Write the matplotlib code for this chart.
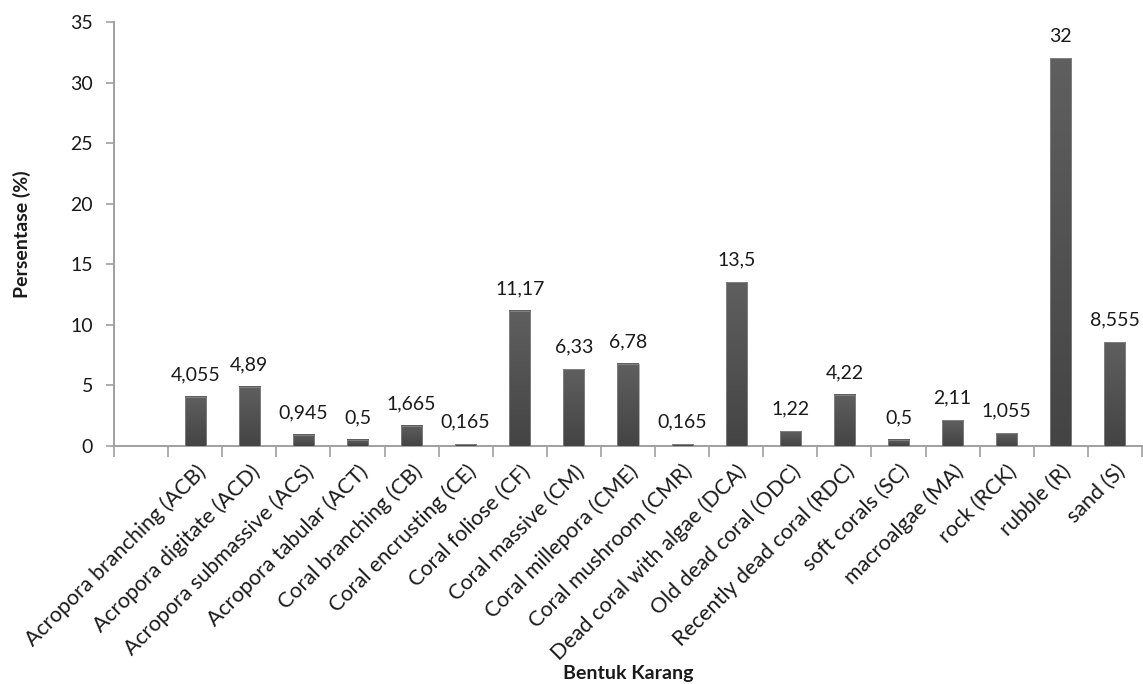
import matplotlib
matplotlib.use("Agg")
import matplotlib.pyplot as plt
import numpy as np
from matplotlib.colors import LinearSegmentedColormap

# Data: first slot of the Excel chart is an empty category
categories = ["",
              "Acropora branching (ACB)", "Acropora digitate (ACD)",
              "Acropora submassive (ACS)", "Acropora tabular (ACT)",
              "Coral branching (CB)", "Coral encrusting (CE)",
              "Coral foliose (CF)", "Coral massive (CM)",
              "Coral millepora (CME)", "Coral mushroom (CMR)",
              "Dead coral with algae (DCA)", "Old dead coral (ODC)",
              "Recently dead coral (RDC)", "soft corals (SC)",
              "macroalgae (MA)", "rock (RCK)", "rubble (R)", "sand (S)"]
values = [None,
          4.055, 4.89, 0.945, 0.5, 1.665, 0.165, 11.17, 6.33,
          6.78, 0.165, 13.5, 1.22, 4.22, 0.5, 2.11, 1.055, 32, 8.555]
y_ticks = [0, 5, 10, 15, 20, 25, 30, 35]

plt.rcParams['font.family'] = ['Lato', 'DejaVu Sans']

fig = plt.figure(figsize=(11.43, 6.84), dpi=100)
ax = fig.add_axes([114 / 1143, 1 - 446 / 684, 1028 / 1143, 424 / 684])

axis_grey = "#a0a0a0"
text_col = "#1a1a1a"
bar_w = 0.39

# vertical gradient like the Excel bars (lighter top, darker bottom)
grad_cmap = LinearSegmentedColormap.from_list("bar", ["#444444", "#5f5f5f"])
grad = np.linspace(0, 1, 64).reshape(-1, 1)

x_pos = list(range(len(categories)))
for i, v in enumerate(values):
    if v is None:
        continue
    ax.bar(i, v, width=bar_w, color="none", edgecolor="#8f8f8f",
           linewidth=0.5, zorder=4)
    ax.imshow(grad, cmap=grad_cmap, origin="lower", aspect="auto",
              extent=(i - bar_w / 2, i + bar_w / 2, 0, v), zorder=3)
    label = f"{v:g}".replace(".", ",")
    ax.annotate(label, (i, v), xytext=(0, 12), textcoords="offset points",
                ha="center", va="baseline", fontsize=14, color=text_col)

ax.set_xlim(-0.5, len(categories) - 0.5)
ax.set_ylim(0, 35)
ax.set_aspect("auto")
ax.set_yticks(y_ticks)
ax.set_yticklabels([str(t) for t in y_ticks], fontsize=14, color=text_col)

# category labels at centres, tick marks at boundaries
ax.set_xticks(x_pos)
ax.set_xticklabels(categories, rotation=45, ha="right", rotation_mode="anchor",
                   fontsize=15.5, color=text_col)
ax.tick_params(axis="x", length=0, pad=11)
ax.set_xticks([i - 0.5 for i in range(len(categories) + 1)], minor=True)
ax.tick_params(axis="x", which="minor", length=8, color=axis_grey, width=1.2)
ax.tick_params(axis="y", length=6, color=axis_grey, width=1.2, pad=9)

for side in ["top", "right"]:
    ax.spines[side].set_visible(False)
for side in ["left", "bottom"]:
    ax.spines[side].set_color(axis_grey)
    ax.spines[side].set_linewidth(1.4)

ax.set_ylabel("Persentase (%)", fontsize=14, fontweight="bold", color=text_col)
ax.yaxis.set_label_coords(-0.081, 0.5)
fig.text(628 / 1143, 1 - 673 / 684, "Bentuk Karang", ha="center", va="center",
         fontsize=14, fontweight="bold", color=text_col)

fig.savefig("out.png", dpi=100)
